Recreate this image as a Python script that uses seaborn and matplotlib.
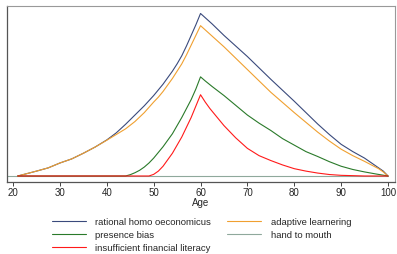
import matplotlib
matplotlib.use("Agg")
import matplotlib.pyplot as plt
import pandas as pd
import seaborn as sns

# values (savings path by age, scaled to peak = 1)
age_rational = [21, 23, 25, 27.5, 30, 32.5, 35, 37.5, 40, 42, 44, 46, 48, 50, 51, 52, 53, 54, 55, 56,
                57, 58, 59, 60, 62.5, 65, 70, 75, 80, 85, 87.5, 90, 92.5, 95, 97, 98, 99, 100]
val_rational = [0.0, 0.015, 0.03, 0.05, 0.08, 0.105, 0.14, 0.178, 0.222, 0.265, 0.318, 0.375, 0.432, 0.495,
                0.53, 0.565, 0.605, 0.645, 0.69, 0.74, 0.80, 0.865, 0.93, 1.0, 0.935, 0.865, 0.735,
                0.595, 0.46, 0.32, 0.255, 0.195, 0.15, 0.11, 0.07, 0.05, 0.03, 0.0]

age_adaptive = [21, 23, 25, 27.5, 30, 32.5, 35, 37.5, 40, 42, 44, 46, 48, 50, 51, 52, 53, 54, 55, 56,
                57, 58, 59, 60, 62.5, 65, 70, 75, 80, 85, 87.5, 90, 92.5, 95, 97, 98, 99, 100]
val_adaptive = [0.0, 0.015, 0.03, 0.05, 0.08, 0.105, 0.14, 0.178, 0.22, 0.255, 0.29, 0.335, 0.39, 0.455,
                0.485, 0.52, 0.56, 0.60, 0.645, 0.69, 0.745, 0.805, 0.865, 0.925, 0.86, 0.795, 0.655,
                0.515, 0.39, 0.27, 0.215, 0.165, 0.125, 0.09, 0.06, 0.045, 0.025, 0.0]

age_presence = [21, 44, 45, 46, 47, 48, 49, 50, 51, 52, 53, 54, 55, 56, 57, 58, 59, 60, 61, 62.5, 65,
                67.5, 70, 72.5, 75, 77.5, 80, 82.5, 85, 87.5, 90, 92.5, 95, 97.5, 100]
val_presence = [0.0, 0.0, 0.008, 0.02, 0.035, 0.055, 0.08, 0.11, 0.145, 0.18, 0.22, 0.26, 0.31, 0.36,
                0.415, 0.47, 0.535, 0.61, 0.585, 0.55, 0.495, 0.435, 0.375, 0.325, 0.28, 0.23, 0.19,
                0.15, 0.12, 0.088, 0.06, 0.04, 0.025, 0.012, 0.0]

age_htm = [18, 100]
val_htm = [0.0, 0.0]

age_literacy = [21, 49, 50, 51, 52, 53, 54, 55, 56, 57, 58, 59, 60, 61, 62, 63, 64, 65, 66, 67.5, 70,
                72.5, 75, 77.5, 80, 82.5, 85, 87.5, 90, 95, 100]
val_literacy = [0.0, 0.0, 0.01, 0.03, 0.06, 0.1, 0.14, 0.19, 0.24, 0.30, 0.36, 0.43, 0.50, 0.455,
                0.415, 0.38, 0.345, 0.31, 0.28, 0.235, 0.17, 0.125, 0.095, 0.068, 0.045, 0.03, 0.018,
                0.009, 0.004, 0.0, 0.0]

names = ["rational homo oeconomicus", "adaptive learnering", "presence bias",
         "hand to mouth", "insufficient financial literacy"]
colors = ["#3a4a7c", "#f0a030", "#2a7a2a", "#8fa89c", "#ff1a1a"]
xticks = [20, 30, 40, 50, 60, 70, 80, 90, 100]

frames = []
for n, a, v in zip(names,
                   [age_rational, age_adaptive, age_presence, age_htm, age_literacy],
                   [val_rational, val_adaptive, val_presence, val_htm, val_literacy]):
    frames.append(pd.DataFrame({"Age": a, "value": v, "series": n}))
df = pd.concat(frames, ignore_index=True)

sns.set_style("white")
plt.rcParams["font.family"] = ["Liberation Sans", "DejaVu Sans"]

fig = plt.figure(figsize=(3.97, 2.54), dpi=100)
ax = fig.add_axes([7 / 397, 1 - 182 / 254, 388 / 397, 176 / 254])

# draw hand to mouth first so the other lines sit on top of it
order = ["hand to mouth", "rational homo oeconomicus", "adaptive learnering",
         "presence bias", "insufficient financial literacy"]
pal = dict(zip(names, colors))
for n in order:
    sns.lineplot(data=df[df["series"] == n], x="Age", y="value", color=pal[n],
                 linewidth=0.8, ax=ax, label=n, estimator=None, sort=False)

ax.set_xlim(18.7, 101.5)
ax.set_ylim(-0.037, 1.046)
ax.set_xticks(xticks)
ax.set_yticks([])
ax.set_ylabel("")
ax.set_xlabel("Age", fontsize=7, labelpad=0)
ax.tick_params(axis="x", direction="out", length=3, width=0.7, pad=1.5, labelsize=7,
               color="#444444", bottom=True)
for side in ["left", "bottom"]:
    ax.spines[side].set_color("#555555")
    ax.spines[side].set_linewidth(0.9)
for side in ["top", "right"]:
    ax.spines[side].set_color("#999999")
    ax.spines[side].set_linewidth(0.8)

handles, labels = ax.get_legend_handles_labels()
lookup = dict(zip(labels, handles))
leg_order = ["rational homo oeconomicus", "presence bias", "insufficient financial literacy",
             "adaptive learnering", "hand to mouth"]
ax.legend([lookup[n] for n in leg_order], leg_order, ncol=2, loc="upper left",
          bbox_to_anchor=(48 / 397, 1 - 214 / 254), bbox_transform=fig.transFigure,
          frameon=False, fontsize=6.8, handlelength=3.6, handletextpad=1.0,
          columnspacing=1.7, labelspacing=0.42, borderaxespad=0)

fig.savefig("out.png", dpi=100)
